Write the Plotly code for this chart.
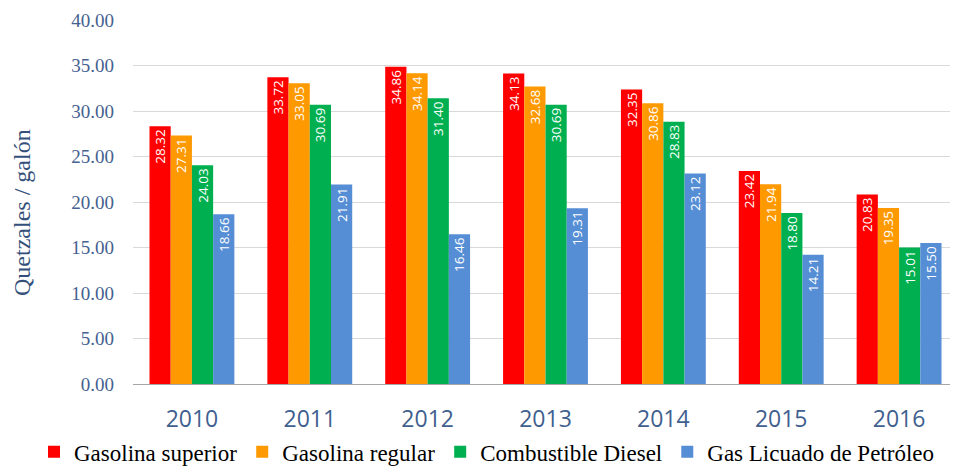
import plotly.graph_objects as go

years = ["2010", "2011", "2012", "2013", "2014", "2015", "2016"]
gasolina_superior = [28.32, 33.72, 34.86, 34.13, 32.35, 23.42, 20.83]
gasolina_regular = [27.31, 33.05, 34.14, 32.68, 30.86, 21.94, 19.35]
diesel = [24.03, 30.69, 31.40, 30.69, 28.83, 18.80, 15.01]
glp = [18.66, 21.91, 16.46, 19.31, 23.12, 14.21, 15.50]

series = [
    ("Gasolina superior", gasolina_superior, "#FF0000"),
    ("Gasolina regular", gasolina_regular, "#FF9900"),
    ("Combustible Diesel", diesel, "#00B050"),
    ("Gas Licuado de Petróleo", glp, "#558ED5"),
]

axis_color = "#44618F"
serif = "Liberation Serif"

fig = go.Figure()
for name, vals, color in series:
    fig.add_trace(go.Bar(
        x=years, y=vals, name=name,
        marker=dict(color=color, line=dict(width=0)),
        text=[f"{v:.2f}" for v in vals],
        textposition="inside",
        insidetextanchor="end",
        textangle=-90,
        constraintext="none",
        textfont=dict(family="Open Sans", size=13.5, color="white"),
    ))

# the page adds an 8px body margin, so the figure is 8px smaller on each side
fig.update_layout(
    width=950, height=466,
    margin=dict(l=125, r=0, t=12, b=90),
    paper_bgcolor="white", plot_bgcolor="white",
    barmode="group", bargap=0.28, bargroupgap=0,
    showlegend=True,
    legend=dict(
        orientation="h", x=-0.12, xanchor="left",
        y=-0.245, yanchor="bottom",
        font=dict(family=serif, size=23, color="black"),
        itemwidth=30, tracegroupgap=0,
    ),
    xaxis=dict(
        automargin=False,
        tickfont=dict(family="Open Sans", size=23, color="#3F5F8F"),
        showline=True, linecolor="#A6A6A6", linewidth=1,
        ticks="", ticklabelstandoff=14,
    ),
    yaxis=dict(
        automargin=False,
        range=[0, 40], dtick=5, tickformat=".2f",
        tickfont=dict(family=serif, size=19, color=axis_color),
        gridcolor="#D9D9D9", gridwidth=1, zeroline=False,
        ticklabelstandoff=18,
    ),
)

fig.add_annotation(
    text="Quetzales / galón", textangle=-90,
    xref="paper", yref="paper", x=-0.1345, y=0.47,
    xanchor="center", yanchor="middle", showarrow=False,
    font=dict(family=serif, size=24, color="#34507A"),
)

fig.write_html("out.html")
